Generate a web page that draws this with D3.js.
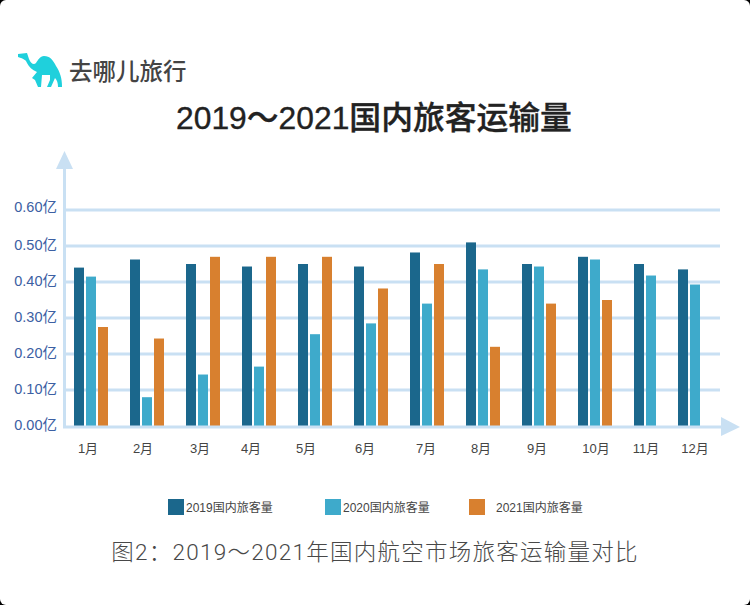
<!DOCTYPE html>
<html>
<head>
<meta charset="utf-8">
<script src="https://cdn.jsdelivr.net/npm/d3@7.9.0/dist/d3.min.js"></script>
<style>
  html, body { margin: 0; padding: 0; background: #000; }
  svg { display: block; }
  text { font-family: "Liberation Sans", "Noto Sans CJK SC", sans-serif; }
</style>
</head>
<body>
<svg id="chart"></svg>
<script>
const months = ['1月', '2月', '3月', '4月', '5月', '6月', '7月', '8月', '9月', '10月', '11月', '12月'];
const seriesNames = ['2019国内旅客量', '2020国内旅客量', '2021国内旅客量'];
const values2019 = [0.44, 0.4625, 0.45, 0.443, 0.45, 0.443, 0.482, 0.51, 0.45, 0.47, 0.45, 0.435];
const values2020 = [0.415, 0.08, 0.143, 0.165, 0.255, 0.285, 0.34, 0.435, 0.443, 0.4625, 0.418, 0.393];
const values2021 = [0.275, 0.243, 0.47, 0.47, 0.47, 0.382, 0.45, 0.22, 0.34, 0.35, null, null];
const yTicks = [0, 0.1, 0.2, 0.3, 0.4, 0.5, 0.6];

const width = 750;
const height = 605;
const colors = d3.scaleOrdinal().domain(seriesNames).range(['#1b678c', '#3eaacb', '#d8802f']);
const axisColor = '#c9e0f3';

// the original is hand placed: months are not evenly spaced, so nudge them
const barNudge = { '12月': -12 };
const labelNudge = { '1月': -3, '2月': -4, '3月': -3, '4月': -8, '5月': -9, '6月': -6, '7月': -1, '8月': -2, '9月': -2, '10月': 1, '11月': -5, '12月': -12 };

const x = d3.scaleBand().domain(months).range([74, 74 + 56 * 12]);
const xInner = d3.scaleBand().domain(seriesNames).range([0, 34]).paddingInner(1 / 6);
const y = d3.scaleLinear().domain([0, 0.6]).range([426, 210]);

const svg = d3.select('#chart').attr('width', width).attr('height', height).attr('viewBox', `0 0 ${width} ${height}`);
svg.append('rect').attr('width', width).attr('height', height).attr('rx', 6).attr('fill', '#fff');

// logo
svg.append('path')
  .attr('fill', '#1fd0dc')
  .attr('d', 'M18,54 L27,53 L29,59 C31,64 34,65 36,63 C38,60 40,56 44,56 C50,56 53,60 56,66 C60,72 62,78 62,87 L58,87 C58,83 57,80 55,78 L51,87 L47,87 L50,80 L50,75 L42,75 L41,87 L38,87 L35,80 L32,78 L37,72 C32,70 29,67 27,63 C26,60 24,59 18,57 Z');
svg.append('text').attr('x', 69).attr('y', 80).attr('font-size', 23.5).attr('font-weight', 500).attr('fill', '#444')
  .style('font-family', '"Noto Sans CJK SC"').text('去哪儿旅行');

svg.append('text').attr('x', 374).attr('y', 129).attr('text-anchor', 'middle')
  .attr('font-size', 31.8).attr('font-weight', 500).attr('fill', '#222')
  .attr('stroke', '#222').attr('stroke-width', 0.35)
  .text('2019～2021国内旅客运输量');

// gridlines
svg.append('g').selectAll('line').data(yTicks.filter(d => d > 0)).join('line')
  .attr('x1', 66).attr('x2', 720)
  .attr('y1', d => y(d)).attr('y2', d => y(d))
  .attr('stroke', axisColor).attr('stroke-width', 3);

// bars
const series = [values2019, values2020, values2021];
series.forEach((vals, s) => {
  svg.append('g').selectAll('rect').data(months).join('rect')
    .filter((m, i) => vals[i] !== null)
    .attr('x', m => x(m) + (barNudge[m] || 0) + xInner(seriesNames[s]))
    .attr('y', m => y(vals[months.indexOf(m)]))
    .attr('width', xInner.bandwidth())
    .attr('height', m => y(0) - y(vals[months.indexOf(m)]))
    .attr('fill', colors(seriesNames[s]));
});

// axes with arrows
svg.append('line').attr('x1', 64.5).attr('x2', 64.5).attr('y1', 166).attr('y2', 428).attr('stroke', axisColor).attr('stroke-width', 3);
svg.append('line').attr('x1', 63).attr('x2', 722).attr('y1', y(0) + 1).attr('y2', y(0) + 1).attr('stroke', axisColor).attr('stroke-width', 3);
svg.append('path').attr('fill', axisColor).attr('d', 'M64.5,151 L73,169 L56,169 Z');
svg.append('path').attr('fill', axisColor).attr('d', 'M740,427 L721,417 L721,436 Z');

// y labels, the top one sits higher than the rest in the original
svg.append('g').selectAll('text').data(yTicks).join('text')
  .attr('x', 57).attr('y', d => y(d) + (d === 0.6 ? 2 : 4))
  .attr('text-anchor', 'end').attr('font-size', 14.5).attr('fill', '#3c60a3')
  .text(d => d3.format('.2f')(d) + '亿');

// x labels
svg.append('g').selectAll('text').data(months).join('text')
  .attr('x', m => x(m) + x.bandwidth() / 2 - 11 + labelNudge[m])
  .attr('y', 453)
  .attr('text-anchor', 'middle').attr('font-size', 13).attr('fill', '#444')
  .text(m => m);

// legend
const legendX = d3.scaleOrdinal().domain(seriesNames).range([168, 325, 469]);
const legendTextX = d3.scaleOrdinal().domain(seriesNames).range([186, 343, 496]);
svg.append('g').selectAll('rect').data(seriesNames).join('rect')
  .attr('x', d => legendX(d)).attr('y', 499).attr('width', 16).attr('height', 16)
  .attr('fill', d => colors(d));
svg.append('g').selectAll('text').data(seriesNames).join('text')
  .attr('x', d => legendTextX(d)).attr('y', 511.5)
  .attr('font-size', 12).attr('fill', '#444')
  .text(d => d);

svg.append('text').attr('x', 375).attr('y', 560).attr('text-anchor', 'middle')
  .attr('font-size', 22.5).attr('font-weight', 300).attr('letter-spacing', 1.25).attr('fill', '#484848')
  .style('font-family', 'Roboto, "Noto Sans CJK SC"')
  .text('图2：2019～2021年国内航空市场旅客运输量对比');
</script>
</body>
</html>
